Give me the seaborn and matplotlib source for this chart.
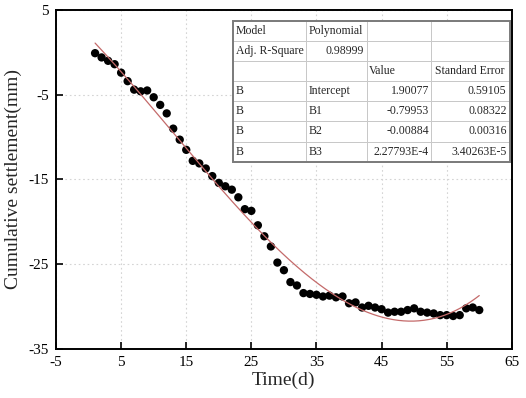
import numpy as np
import pandas as pd
import seaborn as sns
import matplotlib.pyplot as plt
from matplotlib.patches import Rectangle

# ── Data ────────────────────────────────────────────────────
days = list(range(1, 61))
settlement = [
    -0.1, -0.6, -1.0, -1.4, -2.4, -3.4, -4.4, -4.6, -4.5, -5.3,
    -6.2, -7.2, -9.0, -10.3, -11.5, -12.8, -13.1, -13.7, -14.6, -15.4,
    -15.8, -16.2, -17.1, -18.5, -18.7, -20.4, -21.7, -22.9, -24.8, -25.7,
    -27.1, -27.5, -28.4, -28.5, -28.6, -28.8, -28.7, -28.9, -28.8, -29.6,
    -29.5, -30.1, -29.9, -30.1, -30.3, -30.7, -30.6, -30.6, -30.4, -30.2,
    -30.6, -30.7, -30.8, -31.0, -31.0, -31.1, -31.0, -30.2, -30.1, -30.4,
]

# Polynomial fit results (as shown in the table)
coef_names = ["Intercept", "B1", "B2", "B3"]
coef_values = ["1.90077", "-0.79953", "-0.00884", "2.27793E-4"]
coef_errors = ["0.59105", "0.08322", "0.00316", "3.40263E-5"]
adj_r2 = "0.98999"

x_ticks = [-5, 5, 15, 25, 35, 45, 55, 65]
y_ticks = [-35, -25, -15, -5, 5]

df = pd.DataFrame({"day": days, "settlement": settlement})

# fitted cubic curve from the table coefficients
coefs = [float(v) for v in coef_values]
x_fit = np.linspace(min(days), max(days), 300)
y_fit = sum(c * x_fit ** i for i, c in enumerate(coefs))
fit_df = pd.DataFrame({"day": x_fit, "fit": y_fit})

# ── Plot ────────────────────────────────────────────────────
sns.set_theme(style="ticks")
plt.rcParams["font.family"] = ["Liberation Serif", "DejaVu Serif"]
plt.rcParams["axes.unicode_minus"] = False

fig = plt.figure(figsize=(5.26, 3.98), dpi=100)
ax = fig.add_axes([0.1065, 0.123, 0.8665, 0.852])

ax.grid(True, linestyle=(0, (1.5, 2.5)), color="#d4d4d4", linewidth=0.8)
ax.set_axisbelow(True)

sns.lineplot(data=fit_df, x="day", y="fit", color="#c46a6a",
             linewidth=0.9, ax=ax, zorder=3)
sns.scatterplot(data=df, x="day", y="settlement", color="black",
                s=36, edgecolor="none", ax=ax, zorder=2)

ax.set_xlim(-5, 65)
ax.set_ylim(-35, 5)
ax.set_xticks(x_ticks)
ax.set_yticks(y_ticks)
ax.tick_params(direction="in", length=5, width=1.2, labelsize=11,
               colors="black", pad=5)
for sp in ax.spines.values():
    sp.set_visible(True)
    sp.set_linewidth(1.4)
    sp.set_color("black")

ax.set_xlabel("Time(d)", fontsize=14, labelpad=2)
ax.set_ylabel("Cumulative settlement(mm)", fontsize=14, labelpad=5)

# ── Results table ───────────────────────────────────────────
rows = [
    ["Model", "Polynomial", "", ""],
    ["Adj. R-Square", adj_r2, "", ""],
    ["", "", "Value", "Standard Error"],
]
for name, val, err in zip(coef_names, coef_values, coef_errors):
    rows.append(["B", name, val, err])

col_w = np.array([73.3, 60.7, 65.0, 78.3])
col_w = col_w / col_w.sum()
bbox = [0.3875, 0.5525, 0.608, 0.416]
tab = ax.table(cellText=rows, colWidths=list(col_w), bbox=bbox,
               cellLoc="left", zorder=5)
tab.auto_set_font_size(False)
for (r, c), cell in tab.get_celld().items():
    cell.set_edgecolor("#c8c8c8")
    cell.set_linewidth(0.7)
    cell.set_facecolor("white")
    cell.PAD = 0.04
    cell.get_text().set_fontsize(8.5)
    cell.get_text().set_fontfamily(["Liberation Serif"])
    if (r >= 3 and c >= 2) or (r == 1 and c == 1):
        cell._loc = "right"
        cell.get_text().set_ha("right")

ax.add_patch(Rectangle((bbox[0], bbox[1]), bbox[2], bbox[3],
                       transform=ax.transAxes, fill=False,
                       edgecolor="#7a7a7a", linewidth=1.4, zorder=6))

plt.savefig("out.png", dpi=100)
plt.close()
